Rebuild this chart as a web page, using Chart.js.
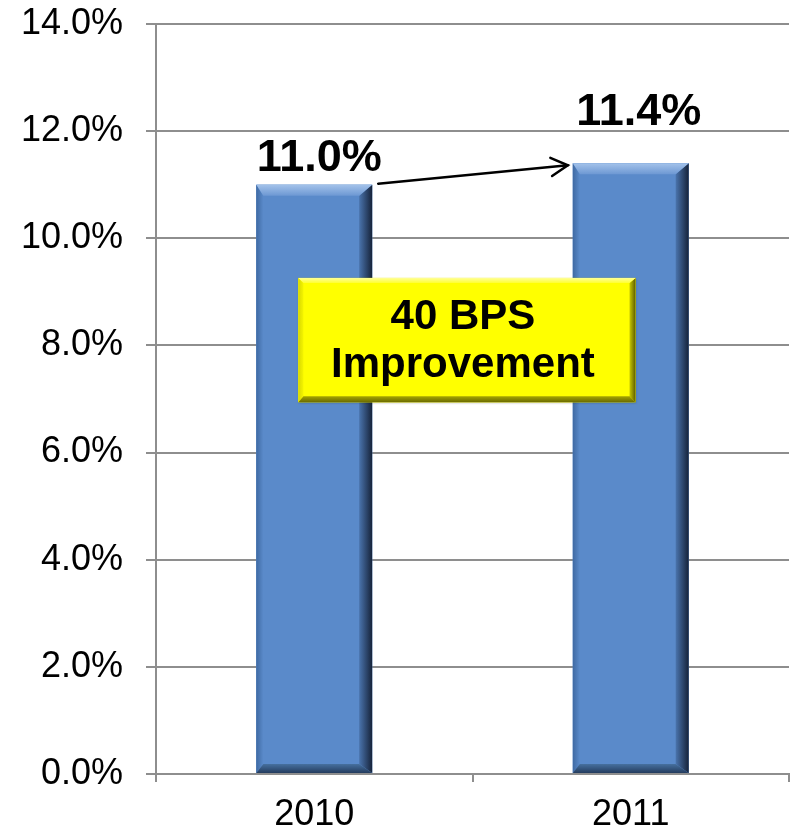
<!DOCTYPE html>
<html>
<head>
<meta charset="utf-8">
<script src="https://cdn.jsdelivr.net/npm/chart.js@4"></script>
<style>
  html, body { margin: 0; padding: 0; background: #ffffff; }
  #wrap { width: 790px; height: 834px; }
</style>
</head>
<body>
<div id="wrap"><canvas id="c" width="790" height="834"></canvas></div>
<script>
const categories = ['2010', '2011'];
const values = [11.0, 11.4];
const valueLabels = ['11.0%', '11.4%'];
const yTicks = [0, 2, 4, 6, 8, 10, 12, 14];
const calloutLines = ['40 BPS', 'Improvement'];

const FONT = '"Liberation Sans", Arial, Helvetica, sans-serif';
const GRID = '#8e8e8e';

function bevelRect(ctx, l, t, r, b, s, c) {
  ctx.fillStyle = c.face;
  ctx.fillRect(l, t, r - l, b - t);
  let g = ctx.createLinearGradient(l, 0, l + s.l, 0);
  g.addColorStop(0, c.left0); g.addColorStop(1, c.left1);
  ctx.fillStyle = g;
  ctx.beginPath(); ctx.moveTo(l, t); ctx.lineTo(l + s.l, t + s.t); ctx.lineTo(l + s.l, b - s.b); ctx.lineTo(l, b); ctx.closePath(); ctx.fill();
  g = ctx.createLinearGradient(r - s.r, 0, r, 0);
  g.addColorStop(0, c.right0); g.addColorStop(1, c.right1);
  ctx.fillStyle = g;
  ctx.beginPath(); ctx.moveTo(r, t); ctx.lineTo(r - s.r, t + s.t); ctx.lineTo(r - s.r, b - s.b); ctx.lineTo(r, b); ctx.closePath(); ctx.fill();
  g = ctx.createLinearGradient(0, t, 0, t + s.t);
  g.addColorStop(0, c.top0); g.addColorStop(1, c.top1);
  ctx.fillStyle = g;
  ctx.beginPath(); ctx.moveTo(l, t); ctx.lineTo(r, t); ctx.lineTo(r - s.r, t + s.t); ctx.lineTo(l + s.l, t + s.t); ctx.closePath(); ctx.fill();
  g = ctx.createLinearGradient(0, b - s.b, 0, b);
  g.addColorStop(0, c.bot0); g.addColorStop(1, c.bot1);
  ctx.fillStyle = g;
  ctx.beginPath(); ctx.moveTo(l, b); ctx.lineTo(r, b); ctx.lineTo(r - s.r, b - s.b); ctx.lineTo(l + s.l, b - s.b); ctx.closePath(); ctx.fill();
}

const barColors = {
  face: '#5a8aca',
  left0: '#3f6aa3', left1: '#5a8aca',
  right0: '#4a74ad', right1: '#16233a',
  top0: '#a3c2ea', top1: '#6d98d3',
  bot0: '#46709f', bot1: '#243c5e'
};
const boxColors = {
  face: '#ffff00',
  left0: '#d9d900', left1: '#f5f500',
  right0: '#c9c900', right1: '#5c5c00',
  top0: '#ffff99', top1: '#ffff33',
  bot0: '#a6a600', bot1: '#6a6a00'
};

const decorPlugin = {
  id: 'decor',
  afterDatasetsDraw(chart) {
    const ctx = chart.ctx;
    const xs = chart.scales.x, ys = chart.scales.y;
    const bars = chart.getDatasetMeta(0).data;
    ctx.save();
    bars.forEach(bar => {
      const p = bar.getProps(['x', 'y', 'base', 'width'], true);
      const l = p.x - p.width / 2, r = p.x + p.width / 2;
      bevelRect(ctx, l, p.y, r, p.base, {l: 7, r: 13, t: 11, b: 9}, barColors);
    });
    ctx.fillStyle = '#000';
    ctx.font = 'bold 45px ' + FONT;
    ctx.textAlign = 'center';
    ctx.textBaseline = 'alphabetic';
    const dx = [5, 8], dy = [14, 38];
    bars.forEach((bar, i) => {
      ctx.fillText(valueLabels[i], bar.x + dx[i], bar.y - dy[i]);
    });
    const b0 = bars[0], b1 = bars[1];
    const x0 = b0.x + b0.width / 2 + 6, y0 = b0.y - 1;
    const x1 = b1.x - b1.width / 2 - 5, y1 = b1.y + 2;
    ctx.strokeStyle = '#000';
    ctx.lineWidth = 2.5;
    ctx.lineCap = 'round';
    ctx.beginPath(); ctx.moveTo(x0, y0); ctx.lineTo(x1, y1); ctx.stroke();
    const ang = Math.atan2(y1 - y0, x1 - x0), hl = 19, ha = 0.5;
    ctx.beginPath();
    ctx.moveTo(x1 - hl * Math.cos(ang - ha), y1 - hl * Math.sin(ang - ha));
    ctx.lineTo(x1, y1);
    ctx.lineTo(x1 - hl * Math.cos(ang + ha), y1 - hl * Math.sin(ang + ha));
    ctx.stroke();
    const bl = xs.getPixelForValue(-0.05), br = xs.getPixelForValue(1.015);
    const bt = ys.getPixelForValue(9.26), bb = ys.getPixelForValue(6.94);
    ctx.shadowColor = 'rgba(0,0,0,0.25)'; ctx.shadowOffsetX = 1; ctx.shadowOffsetY = 1; ctx.shadowBlur = 2;
    ctx.fillStyle = '#ffff00'; ctx.fillRect(bl, bt, br - bl, bb - bt);
    ctx.shadowColor = 'transparent';
    bevelRect(ctx, bl, bt, br, bb, {l: 5, r: 6, t: 5, b: 6}, boxColors);
    ctx.fillStyle = '#000';
    ctx.font = 'bold 42px ' + FONT;
    ctx.textAlign = 'center';
    ctx.textBaseline = 'middle';
    const cx = (bl + br) / 2 - 4, cy = (bt + bb) / 2;
    ctx.fillText(calloutLines[0], cx, cy - 23);
    ctx.fillText(calloutLines[1], cx, cy + 25);
    ctx.restore();
  }
};

new Chart(document.getElementById('c'), {
  type: 'bar',
  data: {
    labels: categories,
    datasets: [{
      data: values,
      backgroundColor: '#5a8aca',
      borderWidth: 0,
      barPercentage: 0.366,
      categoryPercentage: 1.0
    }]
  },
  options: {
    responsive: false,
    animation: false,
    devicePixelRatio: 1,
    layout: { padding: { top: 0, right: 1, left: 0, bottom: 0 } },
    plugins: { legend: { display: false }, tooltip: { enabled: false } },
    scales: {
      y: {
        min: 0, max: 14,
        afterBuildTicks: s => { s.ticks = yTicks.map(v => ({ value: v })); },
        afterFit: s => { s.width = 156; s.paddingTop = 24; s.paddingBottom = 24; },
        ticks: {
          callback: v => Number(v).toFixed(1) + '%',
          color: '#000',
          font: { family: FONT, size: 36 },
          padding: 23
        },
        grid: { color: GRID, lineWidth: 2, tickLength: 10 },
        border: { color: GRID, width: 2 }
      },
      x: {
        afterFit: s => { s.height = 60; },
        ticks: {
          color: '#000',
          font: { family: FONT, size: 36 },
          padding: 11
        },
        grid: { drawOnChartArea: false, offset: true, color: GRID, lineWidth: 2, tickLength: 8 },
        border: { color: GRID, width: 2 }
      }
    }
  },
  plugins: [decorPlugin]
});
</script>
</body>
</html>
